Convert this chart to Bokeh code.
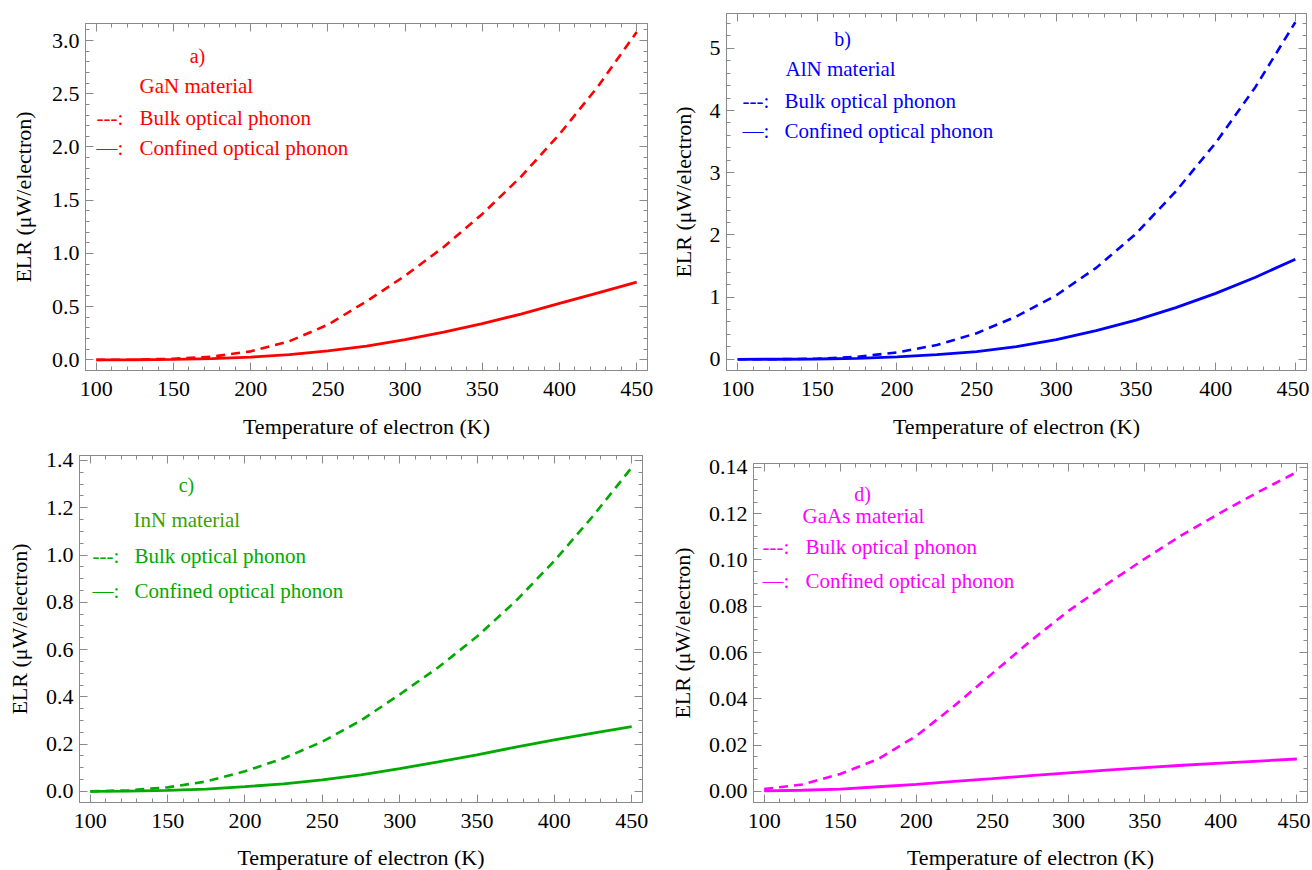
from bokeh.plotting import figure
from bokeh.models import (Range1d, LinearAxis, SingleIntervalTicker, Label,
                          PrintfTickFormatter, CustomJSTickFormatter)
from bokeh.layouts import column, row
from bokeh.embed import file_html
from bokeh.resources import INLINE

# ---------------- data ----------------
T = [100, 125, 150, 175, 200, 225, 250, 275, 300, 325, 350, 375, 400, 425, 450]

gan_bulk = [0.0, 0.002, 0.01, 0.03, 0.08, 0.175, 0.33, 0.55, 0.79, 1.06, 1.37, 1.72, 2.12, 2.57, 3.08]
gan_conf = [0.0, 0.001, 0.004, 0.012, 0.026, 0.05, 0.085, 0.13, 0.19, 0.26, 0.34, 0.43, 0.53, 0.63, 0.73]

aln_bulk = [0.0, 0.002, 0.01, 0.04, 0.11, 0.23, 0.42, 0.69, 1.03, 1.47, 2.02, 2.70, 3.48, 4.38, 5.42]
aln_conf = [0.0, 0.001, 0.005, 0.015, 0.04, 0.075, 0.125, 0.205, 0.315, 0.46, 0.63, 0.83, 1.06, 1.32, 1.61]

inn_bulk = [0.0, 0.005, 0.017, 0.042, 0.085, 0.14, 0.21, 0.30, 0.41, 0.525, 0.655, 0.805, 0.975, 1.165, 1.37]
inn_conf = [0.0, 0.001, 0.004, 0.01, 0.02, 0.032, 0.049, 0.07, 0.096, 0.125, 0.155, 0.187, 0.218, 0.246, 0.274]

gaas_bulk = [0.001, 0.003, 0.0075, 0.014, 0.024, 0.037, 0.051, 0.065, 0.078, 0.0895, 0.1005, 0.111, 0.1205, 0.1295, 0.138]
gaas_conf = [0.0002, 0.0005, 0.001, 0.002, 0.003, 0.0043, 0.0055, 0.0068, 0.008, 0.0092, 0.0103, 0.0113, 0.0122, 0.0131, 0.014]

panel_tags = ["a)", "b)", "c)", "d)"]
materials = ["GaN material", "AlN material", "InN material", "GaAs material"]
bulk_text = "Bulk optical phonon"
conf_text = "Confined optical phonon"
x_title = "Temperature of electron (K)"
y_title = "ELR (\u03bcW/electron)"

FONT = "Liberation Serif"
GRAY = "#8a8a8a"


def panel(xb, xc, color, tag, material, yr, y_int, y_minor, y_fmt,
          fw, fh, bl, bt, br, bb, lab, y_standoff, x_standoff, mat_color=None):
    p = figure(x_range=Range1d(93, 457), y_range=Range1d(*yr),
               frame_width=fw, frame_height=fh,
               min_border_left=bl, min_border_top=bt, min_border_right=br, min_border_bottom=bb,
               output_backend="svg", toolbar_location=None)
    p.grid.visible = False
    p.outline_line_color = GRAY
    p.background_fill_color = "white"
    p.border_fill_color = "white"

    xt = SingleIntervalTicker(interval=50, num_minor_ticks=5)
    yt = SingleIntervalTicker(interval=y_int, num_minor_ticks=y_minor)
    bottom = p.xaxis[0]
    left = p.yaxis[0]
    bottom.ticker = xt
    left.ticker = yt
    left.formatter = PrintfTickFormatter(format=y_fmt)

    blank = CustomJSTickFormatter(code="return '';")
    top = LinearAxis(ticker=xt, formatter=blank, major_label_standoff=0)
    right = LinearAxis(ticker=yt, formatter=blank, major_label_standoff=0)
    p.add_layout(top, "above")
    p.add_layout(right, "right")

    for ax in [bottom, left, top, right]:
        ax.axis_line_color = GRAY
        ax.major_tick_line_color = GRAY
        ax.minor_tick_line_color = GRAY
        ax.major_tick_in = 8
        ax.major_tick_out = 0
        ax.minor_tick_in = 4
        ax.minor_tick_out = 0
        ax.major_label_text_font = FONT
        ax.major_label_text_color = "black"
        ax.major_label_text_font_size = "22px"
        ax.axis_label_text_font = FONT
        ax.axis_label_text_font_style = "normal"
        ax.axis_label_text_color = "black"
        ax.axis_label_text_font_size = "22px"

    bottom.major_label_standoff = 11
    left.major_label_standoff = 6
    bottom.axis_label = x_title
    bottom.axis_label_standoff = x_standoff
    left.axis_label = y_title
    left.axis_label_standoff = y_standoff

    p.line(T, xb, line_color=color, line_width=2.6, line_dash="9 6")
    p.line(T, xc, line_color=color, line_width=2.8)

    (tx, ty), (mx, my), (dx, dy), (bx, by), cy = lab
    mc = mat_color or color
    specs = [(tx, ty, tag, color, "center", "20px"),
             (mx, my, material, mc, "left", "21px"),
             (dx, dy, "---:", color, "left", "21px"),
             (bx, by, bulk_text, color, "left", "21px"),
             (dx, cy, "\u2014:", color, "left", "21px"),
             (bx, cy, conf_text, color, "left", "21px")]
    for x, y, t, c, al, fs in specs:
        p.add_layout(Label(x=x, y=y, x_units="screen", y_units="screen", text=t,
                           text_font=FONT, text_font_size=fs, text_color=c,
                           text_align=al, text_baseline="middle"))
    return p


pa = panel(gan_bulk, gan_conf, "#ff0000", panel_tags[0], materials[0],
           (-0.10, 3.16), 0.5, 5, "%.1f", 562, 347, 85, 23, 11, 70,
           ((112, 315), (54, 285), (11, 253), (54, 253), 223), 13, 15)
pb = panel(aln_bulk, aln_conf, "#0000ff", panel_tags[1], materials[1],
           (-0.18, 5.56), 1, 5, "%d", 580, 357, 68, 13, 3, 70,
           ((116, 332), (59, 302), (16, 270), (58, 270), 240), 11, 15)
pc = panel(inn_bulk, inn_conf, "#00aa00", panel_tags[2], materials[2],
           (-0.047, 1.421), 0.2, 4, "%.1f", 563, 347, 79, 14, 24, 67,
           ((107, 318), (54, 283), (13, 247), (55, 247), 212), 11, 14, mat_color="#3f9f00")
pd = panel(gaas_bulk, gaas_conf, "#ff00ff", panel_tags[3], materials[3],
           (-0.0048, 0.1417), 0.02, 4, "%.2f", 554, 339, 87, 22, 3, 67,
           ((109, 309), (49, 287), (9, 256), (52, 256), 222), 11, 14)

layout = column(row(column(pa), column(pb)), row(column(pc), column(pd)))

open("out.html", "w").write(file_html(layout, INLINE))
